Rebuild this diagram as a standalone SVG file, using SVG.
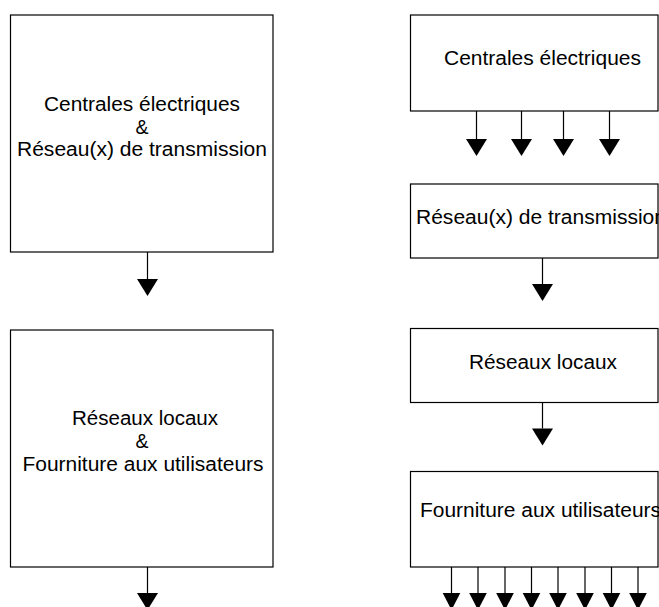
<svg xmlns="http://www.w3.org/2000/svg" xmlns:xlink="http://www.w3.org/1999/xlink" width="659" height="607" viewBox="0 0 659 607">
<style>
.box{fill:#fff;stroke:#000;stroke-width:1.2}
.lbl{font-family:"Liberation Sans",Arial,Helvetica,sans-serif;font-size:19.5px;fill:#000}
.c{text-anchor:middle}
.ln{stroke:#000;stroke-width:1.2;fill:none}
.hd{fill:#000}
</style>
<defs>
<path id="ah" d="M-10.5,0 L10.5,0 L0,17 Z"/>
<path id="ahs" d="M-8.8,0 L8.8,0 L0,17 Z"/>
</defs>
<rect width="659" height="607" fill="#fff"/>
<g id="left-top">
<rect class="box" x="10.5" y="15" width="262.5" height="237"/>
<text class="lbl c" x="142" y="111" textLength="196" lengthAdjust="spacingAndGlyphs">Centrales électriques</text>
<text class="lbl c" x="142" y="133.5">&amp;</text>
<text class="lbl c" x="142" y="156" textLength="250" lengthAdjust="spacingAndGlyphs">Réseau(x) de transmission</text>
</g>
<g id="left-bottom">
<rect class="box" x="10.5" y="330" width="262.5" height="237"/>
<text class="lbl c" x="145" y="425" textLength="146" lengthAdjust="spacingAndGlyphs">Réseaux locaux</text>
<text class="lbl c" x="142" y="448">&amp;</text>
<text class="lbl c" x="143" y="471" textLength="241" lengthAdjust="spacingAndGlyphs">Fourniture aux utilisateurs</text>
</g>
<g id="right-centrales">
<rect class="box" x="410.5" y="15" width="247.5" height="96"/>
<text class="lbl" x="444" y="64.5" textLength="197" lengthAdjust="spacingAndGlyphs">Centrales électriques</text>
</g>
<g id="right-transmission">
<rect class="box" x="410.5" y="184" width="247.5" height="74"/>
<text class="lbl" x="416" y="224" textLength="250" lengthAdjust="spacingAndGlyphs">Réseau(x) de transmission</text>
</g>
<g id="right-locaux">
<rect class="box" x="410.5" y="328.5" width="247.5" height="74"/>
<text class="lbl" x="469" y="369" textLength="148" lengthAdjust="spacingAndGlyphs">Réseaux locaux</text>
</g>
<g id="right-fourniture">
<rect class="box" x="410.5" y="471.5" width="247.5" height="95.5"/>
<text class="lbl" x="420" y="516.5" textLength="241" lengthAdjust="spacingAndGlyphs">Fourniture aux utilisateurs</text>
</g>
<g id="connectors">
<path class="ln" d="M147.5,252 V279 M147.5,567 V593"/>
<use xlink:href="#ah" class="hd" x="147.5" y="279"/>
<use xlink:href="#ah" class="hd" x="147.5" y="593"/>
<path class="ln" d="M476.5,111 V139 M521.5,111 V139 M563.5,111 V139 M609.5,111 V139"/>
<use xlink:href="#ah" class="hd" x="476.5" y="139"/>
<use xlink:href="#ah" class="hd" x="521.5" y="139"/>
<use xlink:href="#ah" class="hd" x="563.5" y="139"/>
<use xlink:href="#ah" class="hd" x="609.5" y="139"/>
<path class="ln" d="M542.5,258 V284 M542.5,402.5 V428.5"/>
<use xlink:href="#ah" class="hd" x="542.5" y="284"/>
<use xlink:href="#ah" class="hd" x="542.5" y="428.5"/>
<path class="ln" d="M451.5,567 V593 M478,567 V593 M505,567 V593 M531.5,567 V593 M558,567 V593 M585,567 V593 M611.5,567 V593 M638,567 V593"/>
<use xlink:href="#ahs" class="hd" x="451.5" y="593"/>
<use xlink:href="#ahs" class="hd" x="478" y="593"/>
<use xlink:href="#ahs" class="hd" x="505" y="593"/>
<use xlink:href="#ahs" class="hd" x="531.5" y="593"/>
<use xlink:href="#ahs" class="hd" x="558" y="593"/>
<use xlink:href="#ahs" class="hd" x="585" y="593"/>
<use xlink:href="#ahs" class="hd" x="611.5" y="593"/>
<use xlink:href="#ahs" class="hd" x="638" y="593"/>
</g>
</svg>
